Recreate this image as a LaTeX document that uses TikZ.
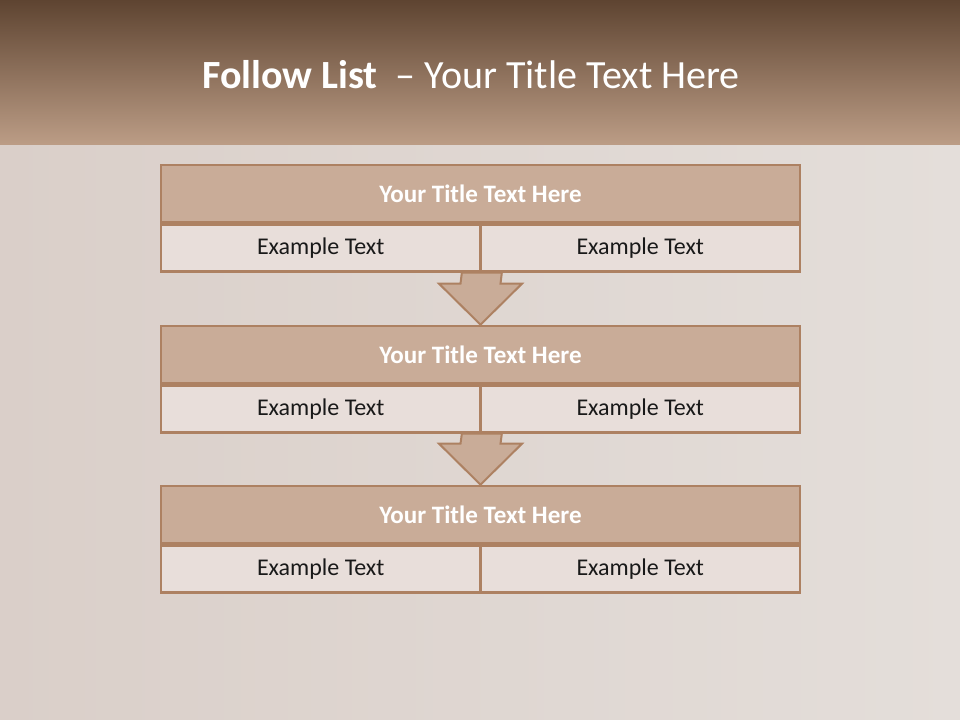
\documentclass[tikz,border=0pt]{standalone}
\usepackage{fontspec}
\setmainfont{Carlito}
\usetikzlibrary{positioning}
\usetikzlibrary{calc}

\definecolor{headtop}{HTML}{5E4431}
\definecolor{headbot}{HTML}{BC9D86}
\definecolor{woodleft}{HTML}{DACFC9}
\definecolor{woodright}{HTML}{E4DEDA}
\definecolor{rim}{HTML}{AD8162}
\definecolor{titlefill}{HTML}{C9AC98}
\definecolor{cellfill}{HTML}{E8DEDA}

\begin{document}
\begin{tikzpicture}[x=0.75pt, y=-0.75pt,
  titlebox/.style={draw=rim, line width=2pt, fill=titlefill, text=white,
    minimum width=479.25pt, minimum height=42.75pt, inner sep=0pt,
    font=\fontsize{18.8}{22}\selectfont\bfseries},
  cellbox/.style={draw=rim, line width=2pt, fill=cellfill, text=black!90,
    minimum width=239.625pt, minimum height=35pt, inner sep=0pt,
    font=\fontsize{18}{21.6}\selectfont},
  blockarrow/.style={draw=rim, line width=1.5pt, fill=titlefill, line join=miter}]
  \useasboundingbox (0,0) rectangle (960,720);

  % background and header band
  \shade[left color=woodleft, right color=woodright] (0,145) rectangle (960,720);
  \shade[top color=headtop, bottom color=headbot] (0,0) rectangle (960,145);
  \node[anchor=base, text=white, font=\fontsize{30}{36}\selectfont] (head) at (471,89)
    {\textbf{Follow List}~ – Your Title Text Here};

  % the three boxes
  \node[titlebox] (t1) at (480.5,193.5) {Your Title Text Here};
  \node[cellbox, anchor=north west] (c1a) at (t1.south west) {Example Text};
  \node[cellbox, anchor=north east] (c1b) at (t1.south east) {Example Text};

  \node[titlebox] (t2) at (480.5,354.5) {Your Title Text Here};
  \node[cellbox, anchor=north west] (c2a) at (t2.south west) {Example Text};
  \node[cellbox, anchor=north east] (c2b) at (t2.south east) {Example Text};

  \node[titlebox] (t3) at (480.5,514.5) {Your Title Text Here};
  \node[cellbox, anchor=north west] (c3a) at (t3.south west) {Example Text};
  \node[cellbox, anchor=north east] (c3b) at (t3.south east) {Example Text};

  % arrows between the boxes
  \foreach \u/\l in {c1a/t2, c2a/t3}
    \draw[blockarrow] ($(\u.south east)+(-20,0)$) -- ($(\u.south east)+(20,0)$)
      -- ($(\l.north)+(20,-41)$) -- ($(\l.north)+(41.5,-41)$) -- (\l.north)
      -- ($(\l.north)+(-41.5,-41)$) -- ($(\l.north)+(-20,-41)$) -- cycle;
\end{tikzpicture}
\end{document}
